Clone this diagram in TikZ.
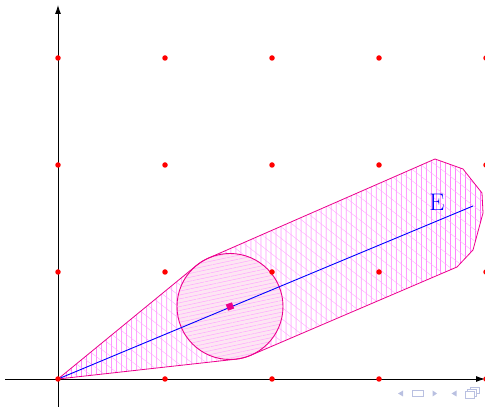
\documentclass[tikz,border=0pt]{standalone}
\usetikzlibrary{arrows.meta,patterns.meta}
\definecolor{navblue}{RGB}{185,192,225}
\tikzset{
  axis/.style={line width=0.9pt,-{Latex[length=9pt,width=6pt]}},
  gdot/.style={circle,fill=red,inner sep=0pt,minimum size=5.5pt},
  hullline/.style={magenta,line width=0.8pt},
  vhatch/.style={pattern={Lines[angle=90,distance=5.4pt,line width=0.6pt]},pattern color=magenta!85},
  dhatch/.style={pattern={Lines[angle=-38,distance=9pt,line width=0.4pt]},pattern color=magenta!35},
  chatch/.style={pattern={Lines[angle=12,distance=3.8pt,line width=0.5pt]},pattern color=magenta!35},
  nav/.style={fill=navblue,draw=none},
}
\begin{document}
\begin{tikzpicture}[x=1pt,y=1pt]
\useasboundingbox (0,0) rectangle (485,407);
% coordinates
\coordinate (O) at (58,28);
\coordinate (C) at (230,100.5);
\coordinate (T1) at (196.4,141.5);
\coordinate (B1) at (250.3,51.5);
\coordinate (P1) at (435,248);
\coordinate (P2) at (463,238);
\coordinate (P3) at (482,214);
\coordinate (P4) at (483,194);
\coordinate (P5) at (473,157);
\coordinate (P6) at (457,140);
\coordinate (Eend) at (473,201);
% hull
\def\hullpath{(O) -- (T1) arc[start angle=129.3,end angle=112.5,radius=53] -- (P1) -- (P2) -- (P3) -- (P4) -- (P5) -- (P6) -- (B1) arc[start angle=-67.5,end angle=-83.63,radius=53] -- cycle}
\path[vhatch] \hullpath;
\path[dhatch] \hullpath;
% disk
\fill[magenta!10] (C) circle[radius=53];
\path[chatch] (C) circle[radius=53];
\draw[hullline] \hullpath;
\draw[magenta,line width=0.9pt] (C) circle[radius=53];
% axes
\coordinate (xs) at (5,28);
\coordinate (xe) at (485,28);
\coordinate (ys) at (58,0);
\coordinate (ye) at (58,402);
\draw[axis] (xs) -- (xe);
\draw[axis] (ys) -- (ye);
% line to E
\draw[blue,line width=0.9pt] (O) -- (Eend);
\node[blue,font=\fontsize{24}{28}\selectfont,inner sep=0pt] (E) at (437,205) {E};
% centre dot
\node[fill=magenta,inner sep=0pt,minimum size=6.5pt,rotate=20] (cd) at (C) {};
% grid dots
\foreach \i in {0,...,4}{
  \foreach \j in {0,...,3}{
    \node[gdot] (g\i\j) at (58+107*\i,28+107*\j) {};
  }
}
% navigation symbols
\fill[nav] (398,13.5) -- (403,16.5) -- (403,10.5) -- cycle;
\draw[navblue,line width=1pt] (412,10.5) rectangle (423,16.5);
\fill[nav] (437,13.5) -- (432.5,16.5) -- (432.5,10.5) -- cycle;
\fill[nav] (451.5,13.5) -- (456.5,16.5) -- (456.5,10.5) -- cycle;
\draw[navblue,line width=1pt] (465,8) rectangle (474,15);
\draw[navblue,line width=1pt] (467.5,15) -- (467.5,17.5) -- (476.5,17.5) -- (476.5,10.5) -- (474,10.5);
\draw[navblue,line width=1pt] (470,17.5) -- (470,19.5) -- (479,19.5) -- (479,13) -- (476.5,13);
\end{tikzpicture}
\end{document}
